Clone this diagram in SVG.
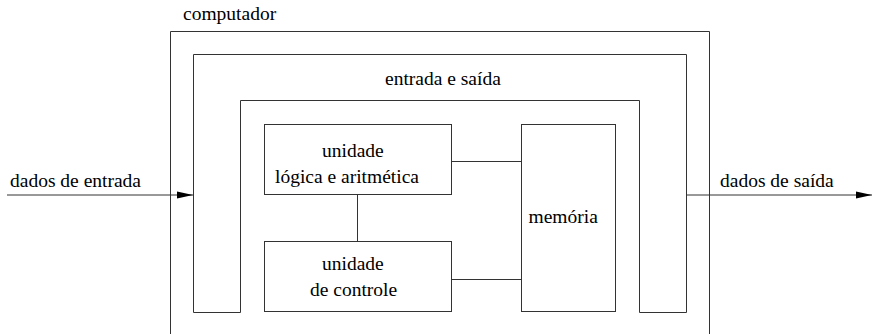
<svg xmlns="http://www.w3.org/2000/svg" width="872" height="334" viewBox="0 0 872 334">
<defs>
<marker id="ah" viewBox="0 0 16 8" refX="16" refY="4" markerWidth="16" markerHeight="8" markerUnits="userSpaceOnUse" orient="auto">
<path d="M0,0.6 L16,4 L0,7.4 Z" fill="#000"/>
</marker>
</defs>
<rect width="872" height="334" fill="#fff"/>
<g id="computador">
<path fill="none" stroke="#333" d="M170.5,340 V31.5 H709.5 V340"/>
<text font-size="19.5" fill="#000" font-family="Liberation Serif" x="183" y="19.5">computador</text>
</g>
<g id="entrada-saida">
<path fill="#fff" stroke="#333" d="M193.5,54.5 H686.5 V312.5 H639.5 V100.5 H240.5 V312.5 H193.5 Z"/>
<text style="font-family:'Liberation Serif',serif;font-size:19.5px" fill="#000" x="385" y="85">entrada e saída</text>
</g>
<g id="ula">
<rect fill="#fff" stroke="#333" x="264.5" y="124.5" width="187" height="70"/>
<text font-size="19.5" fill="#000" font-family="serif" x="322" y="156.7">unidade</text>
<text font-size="19.5" fill="#000" font-family="serif" x="275" y="182.7">lógica e aritmética</text>
</g>
<g id="controle">
<rect fill="#fff" stroke="#333" x="264.5" y="241.5" width="187" height="70"/>
<text font-size="19.5" fill="#000" font-family="Times New Roman" x="322" y="270">unidade</text>
<text font-size="19.5" fill="#000" font-family="Times New Roman" x="310" y="296">de controle</text>
</g>
<g id="memoria">
<rect fill="#fff" stroke="#333" x="521.5" y="124.5" width="94" height="187"/>
<text font-size="19.5" fill="#000" font-family="Liberation Serif" x="528.5" y="223.3">memória</text>
</g>
<g id="connectors">
<line fill="none" stroke="#333" x1="451.5" y1="161.5" x2="521.5" y2="161.5"/>
<line fill="none" stroke="#333" x1="451.5" y1="279.5" x2="521.5" y2="279.5"/>
<line fill="none" stroke="#333" x1="357.5" y1="194.5" x2="357.5" y2="241.5"/>
<line fill="none" stroke="#333" x1="7" y1="195" x2="193" y2="195" marker-end="url(#ah)"/>
<line fill="none" stroke="#333" x1="686.5" y1="195" x2="872" y2="195" marker-end="url(#ah)"/>
<text font-size="19.5" fill="#000" font-family="Liberation Serif" x="10" y="186.7">dados de entrada</text>
<text font-size="19.5" fill="#000" font-family="Liberation Serif" x="720" y="187">dados de saída</text>
</g>
</svg>
